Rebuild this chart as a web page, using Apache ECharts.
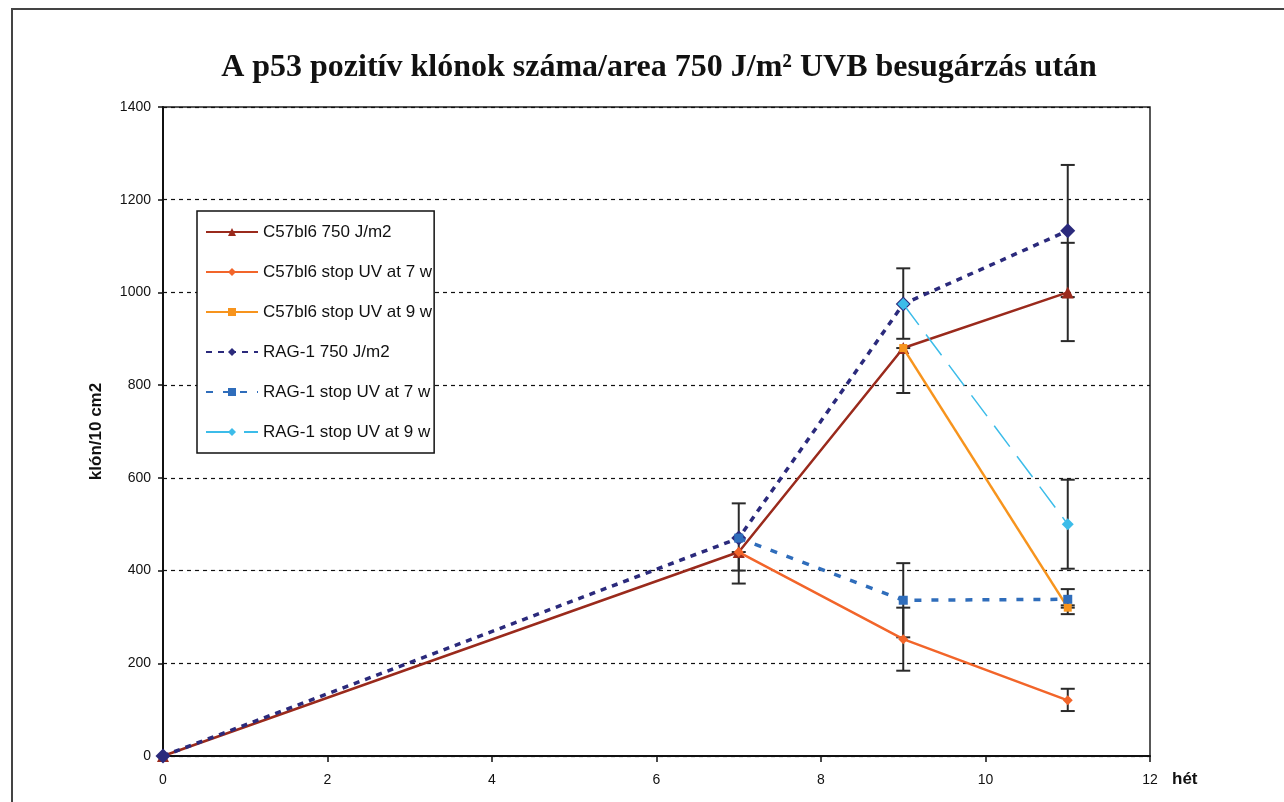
<!DOCTYPE html>
<html>
<head>
<meta charset="utf-8">
<script src="https://cdn.jsdelivr.net/npm/echarts@6/dist/echarts.min.js"></script>
<style>
html,body{margin:0;padding:0;background:#fff;}
#chart{width:1284px;height:802px;}
</style>
</head>
<body>
<div id="chart"></div>
<script>
// ---- data ----
const titleText = 'A p53 pozitív klónok száma/area 750 J/m² UVB besugárzás után';
const weeks = [0, 7, 9, 11];
const seriesNames = ['C57bl6 750 J/m2', 'C57bl6 stop UV at 7 w', 'C57bl6 stop UV at 9 w', 'RAG-1 750 J/m2', 'RAG-1 stop UV at 7 w', 'RAG-1 stop UV at 9 w'];
const c57 = [0, 440, 880, 1000];
const c57stop7 = [null, 440, 252, 120];
const c57stop9 = [null, null, 880, 320];
const rag = [0, 470, 975, 1133];
const ragStop7 = [null, 470, 336, 338];
const ragStop9 = [null, null, 975, 500];
// error bars
const errWeek = [7, 7, 9, 9, 9, 9, 11, 11, 11, 11, 11, 11];
const errLow  = [372, 400, 783, 900, 184, 256, 895, 990, 404, 325, 306, 97];
const errHigh = [440, 545, 880, 1052, 320, 416, 1107, 1275, 596, 360, 320, 145];
const xTicks = [0, 2, 4, 6, 8, 10, 12];
const yTicks = [0, 200, 400, 600, 800, 1000, 1200, 1400];

function pairs(vals) {
  const out = [];
  weeks.forEach((w, i) => { if (vals[i] !== null) out.push([w, vals[i]]); });
  return out;
}

const FONT = "'Liberation Sans', Arial, sans-serif";
const chart = echarts.init(document.getElementById('chart'), null, {renderer: 'canvas'});

const lineDefs = [
  {vals: c57, color: '#9a2a1c', symbol: 'triangle', size: 12, width: 2.5, type: 'solid'},
  {vals: c57stop7, color: '#f2652a', symbol: 'diamond', size: 10, width: 2.5, type: 'solid'},
  {vals: c57stop9, color: '#f7941d', symbol: 'rect', size: 8, width: 2.5, type: 'solid'},
  {vals: rag, color: '#2b2a7c', symbol: 'diamond', size: 15, width: 3.5, type: [6, 6]},
  {vals: ragStop7, color: '#2f6dbb', symbol: 'rect', size: 9, width: 3.5, type: [7, 10]},
  {vals: ragStop9, color: '#3cbce9', symbol: 'diamond', size: 12, width: 1.5, type: [26, 12]}
];

const series = [{
  type: 'custom',
  name: 'err',
  z: 1,
  silent: true,
  data: errWeek.map((w, i) => [w, errLow[i], errHigh[i]]),
  renderItem: function (params, api) {
    const lo = api.coord([api.value(0), api.value(1)]);
    const hi = api.coord([api.value(0), api.value(2)]);
    const hw = 7;
    const st = {stroke: '#2a2a2a', lineWidth: 2};
    return {type: 'group', children: [
      {type: 'line', shape: {x1: lo[0], y1: lo[1], x2: hi[0], y2: hi[1]}, style: st},
      {type: 'line', shape: {x1: lo[0] - hw, y1: lo[1], x2: lo[0] + hw, y2: lo[1]}, style: st},
      {type: 'line', shape: {x1: hi[0] - hw, y1: hi[1], x2: hi[0] + hw, y2: hi[1]}, style: st}
    ]};
  }
}];

lineDefs.forEach((d, i) => {
  series.push({
    type: 'line',
    name: seriesNames[i],
    z: 3 + i,
    data: pairs(d.vals),
    symbol: d.symbol,
    symbolSize: d.size,
    showAllSymbol: true,
    color: d.color,
    itemStyle: {color: d.color},
    lineStyle: {color: d.color, width: d.width, type: d.type},
    animation: false
  });
});

chart.setOption({
  animation: false,
  backgroundColor: '#fff',
  title: {
    text: titleText,
    left: 654,
    textAlign: 'center',
    top: 47,
    textStyle: {fontFamily: "'Liberation Serif', 'Times New Roman', serif", fontWeight: 'bold', fontSize: 32, color: '#111'}
  },
  graphic: [{
    type: 'rect',
    shape: {x: 12, y: 9, width: 1300, height: 820},
    style: {fill: 'none', stroke: '#444', lineWidth: 2},
    silent: true, z: 0
  }],
  legend: {
    orient: 'vertical',
    left: 197,
    top: 211,
    padding: [12, 2, 12, 8],
    itemGap: 22,
    itemWidth: 52,
    itemHeight: 10,
    backgroundColor: '#fff',
    borderColor: '#111',
    borderWidth: 1.5,
    data: seriesNames,
    textStyle: {fontFamily: FONT, fontSize: 17, color: '#111', lineHeight: 18}
  },
  grid: {
    left: 163, right: 134, top: 107, bottom: 46,
    show: true, borderColor: '#222', borderWidth: 1.5, backgroundColor: 'transparent'
  },
  xAxis: {
    type: 'value',
    min: 0, max: 12, interval: 2,
    name: 'hét',
    nameLocation: 'end',
    nameGap: 22,
    nameTextStyle: {fontFamily: FONT, fontWeight: 'bold', fontSize: 17, color: '#111', verticalAlign: 'top', padding: [15, 0, 0, 0]},
    axisLine: {show: true, lineStyle: {color: '#111', width: 2}},
    axisTick: {show: true, inside: false, length: 6, lineStyle: {color: '#111', width: 1.5}},
    axisLabel: {fontFamily: FONT, fontSize: 14, color: '#111', margin: 17,
      formatter: v => xTicks.indexOf(v) >= 0 ? String(v) : ''},
    splitLine: {show: false}
  },
  yAxis: {
    type: 'value',
    min: 0, max: 1400, interval: 200,
    name: 'klón/10 cm2',
    nameLocation: 'middle',
    nameGap: 58,
    nameRotate: 90,
    nameTextStyle: {fontFamily: FONT, fontWeight: 'bold', fontSize: 17, color: '#111'},
    axisLine: {show: true, lineStyle: {color: '#111', width: 2}},
    axisTick: {show: true, inside: false, length: 5, lineStyle: {color: '#111', width: 1.5}},
    axisLabel: {fontFamily: FONT, fontSize: 14, color: '#111', margin: 12,
      formatter: v => yTicks.indexOf(v) >= 0 ? String(v) : ''},
    splitLine: {show: true, lineStyle: {color: '#111', width: 1.2, type: [4, 4]}}
  },
  series: series
});
</script>
</body>
</html>
